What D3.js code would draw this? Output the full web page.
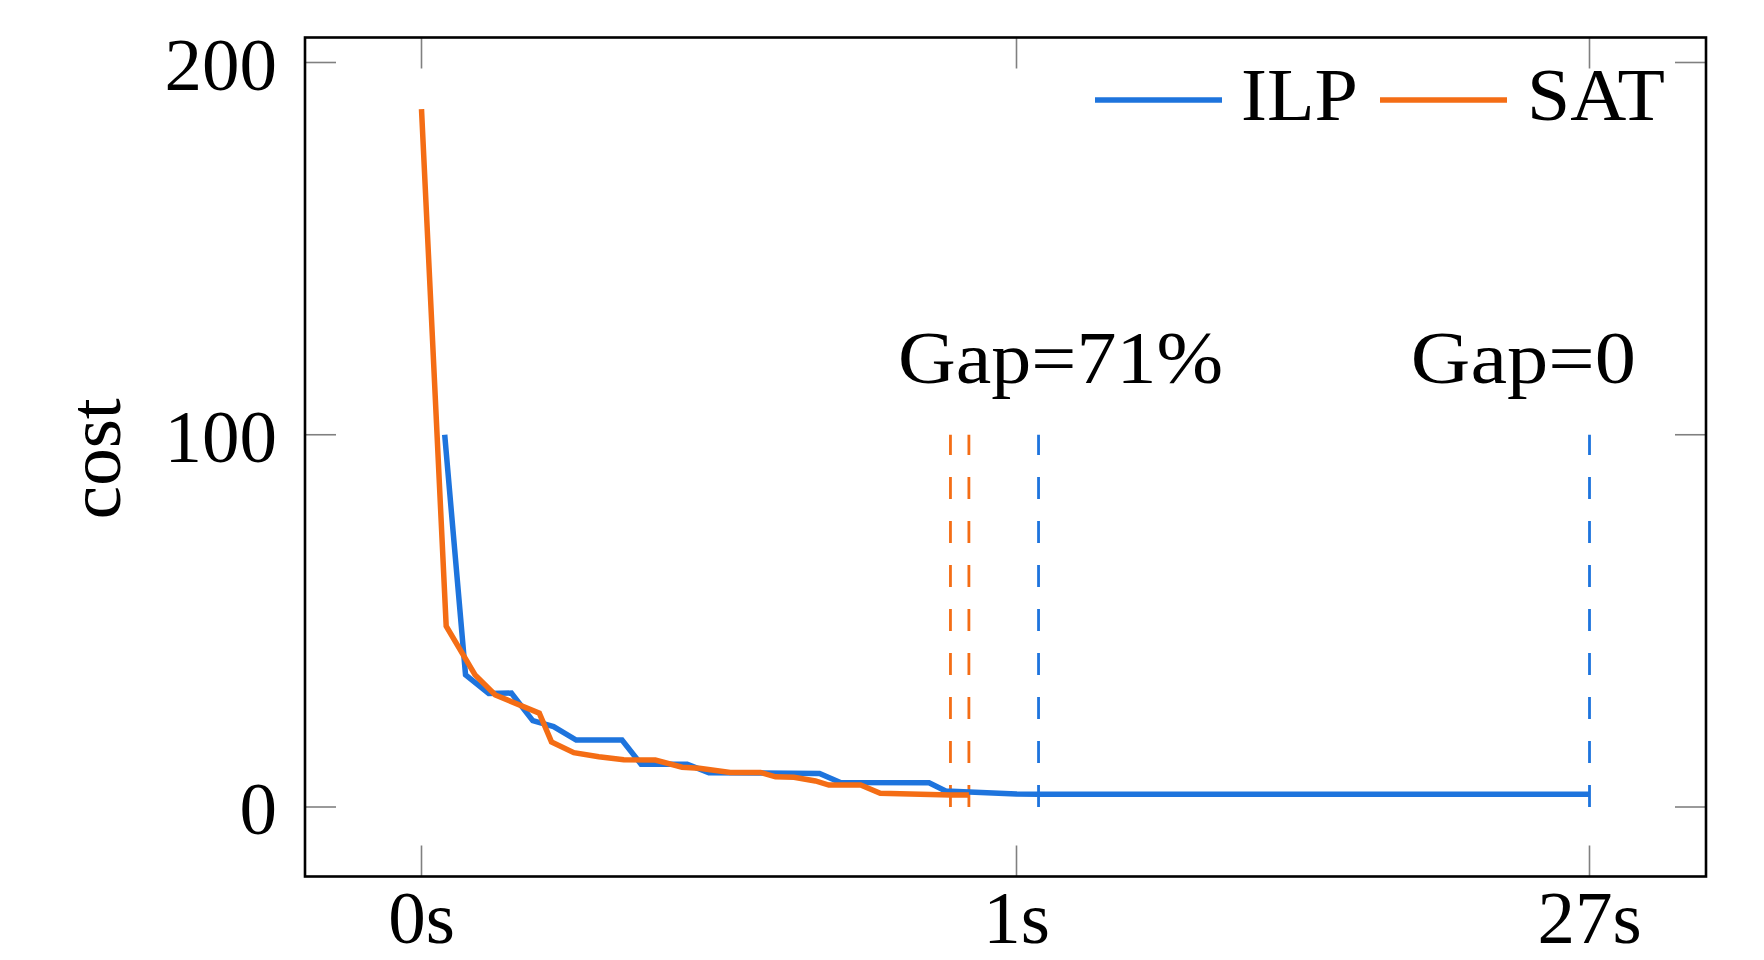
<!DOCTYPE html>
<html>
<head>
<meta charset="utf-8">
<script src="https://cdn.jsdelivr.net/npm/d3@7"></script>
<style>
  html, body { margin: 0; padding: 0; background: #fff; }
  svg { display: block; }
  text { font-family: "Liberation Serif", "Times New Roman", serif; fill: #000; }
</style>
</head>
<body>
<svg id="chart" width="1764" height="960"></svg>
<script>
// ---- data ----
const seriesNames = ["ILP", "SAT"];
const ilpTime = [0.039, 0.074, 0.113, 0.151, 0.187, 0.222, 0.26, 0.337, 0.369, 0.4465, 0.483, 0.669, 0.704, 0.853, 0.881, 1.0, 2.0, 27];
const ilpCost = [100, 35.5, 30.5, 30.6, 23.2, 21.6, 18.0, 18.0, 11.5, 11.5, 9.2, 9.0, 6.6, 6.5, 4.3, 3.5, 3.4, 3.4];
const satTime = [0, 0.0415, 0.09, 0.124, 0.198, 0.2185, 0.256, 0.298, 0.34, 0.393, 0.438, 0.467, 0.519, 0.5697, 0.595, 0.626, 0.662, 0.6846, 0.738, 0.771, 0.889, 0.92];
const satCost = [187.5, 48.6, 35.5, 30.1, 25.2, 17.5, 14.6, 13.5, 12.7, 12.6, 10.7, 10.4, 9.3, 9.3, 8.1, 8.0, 7.0, 5.9, 5.9, 3.7, 3.2, 3.2];
const satMarks = [0.889, 0.92];
const ilpMarks = [2.0, 27];
const markTop = 100;
const xTicks = [0, 1, 27];
const xTickLabels = ["0s", "1s", "27s"];
const yTicks = [0, 100, 200];
const yTickLabels = ["0", "100", "200"];
const gapLabels = ["Gap=71%", "Gap=0"];
const gapLabelTime = [3.0, 24.0];
const gapLabelCost = 114;
const yAxisTitle = "cost";

// ---- layout ----
const colors = { ILP: "#1e74dd", SAT: "#f46d15" };
const box = { left: 305, right: 1706, top: 37.5, bottom: 876.5 };
const fontSize = 75;
const tickLen = 31;
const gapLabelWidth = [325, 225];
const lineWidth = 5.5;

const svg = d3.select("#chart");

const x = d3.scaleLinear().domain([0, 1, 27]).range([421.5, 1016.5, 1589.5]);
const y = d3.scaleLinear().domain([0, 200]).range([807, 62.5]);

// ticks (inside, on all four sides)
const tickG = svg.append("g").attr("stroke", "#808080").attr("stroke-width", 1.6);
xTicks.forEach(t => {
  tickG.append("line").attr("x1", x(t)).attr("x2", x(t)).attr("y1", box.bottom).attr("y2", box.bottom - tickLen);
  tickG.append("line").attr("x1", x(t)).attr("x2", x(t)).attr("y1", box.top).attr("y2", box.top + tickLen);
});
yTicks.forEach(v => {
  tickG.append("line").attr("x1", box.left).attr("x2", box.left + tickLen).attr("y1", y(v)).attr("y2", y(v));
  tickG.append("line").attr("x1", box.right).attr("x2", box.right - tickLen).attr("y1", y(v)).attr("y2", y(v));
});

// tick labels
svg.append("g").selectAll("text").data(xTicks).join("text")
  .attr("x", d => x(d)).attr("y", 943)
  .attr("text-anchor", "middle").attr("font-size", fontSize)
  .text((d, i) => xTickLabels[i]);
svg.append("g").selectAll("text").data(yTicks).join("text")
  .attr("x", 277).attr("y", d => y(d) + 27)
  .attr("text-anchor", "end").attr("font-size", fontSize)
  .text((d, i) => yTickLabels[i]);

// axis title
svg.append("text")
  .attr("transform", `translate(120, ${(y(0) + y(200)) / 2 + 24}) rotate(-90)`)
  .attr("text-anchor", "middle").attr("font-size", fontSize)
  .text(yAxisTitle);

// dashed markers
const dashG = svg.append("g").attr("stroke-width", 2.8).attr("stroke-dasharray", "22 22").attr("fill", "none");
satMarks.forEach(t => dashG.append("path").attr("stroke", colors.SAT)
  .attr("d", `M${x(t)},${y(0)}V${y(markTop)}`));
ilpMarks.forEach(t => dashG.append("path").attr("stroke", colors.ILP)
  .attr("d", `M${x(t)},${y(0)}V${y(markTop)}`));

// series
const line = d3.line().x(d => x(d[0])).y(d => y(d[1]));
const ilpData = ilpTime.map((t, i) => [t, ilpCost[i]]);
const satData = satTime.map((t, i) => [t, satCost[i]]);
svg.append("path").attr("d", line(ilpData)).attr("fill", "none")
  .attr("stroke", colors.ILP).attr("stroke-width", lineWidth);
svg.append("path").attr("d", line(satData)).attr("fill", "none")
  .attr("stroke", colors.SAT).attr("stroke-width", lineWidth);

// gap labels
svg.append("g").selectAll("text").data(gapLabels).join("text")
  .attr("x", (d, i) => x(gapLabelTime[i]) - gapLabelWidth[i] / 2).attr("y", y(gapLabelCost))
  .attr("font-size", fontSize)
  .attr("textLength", (d, i) => gapLabelWidth[i]).attr("lengthAdjust", "spacingAndGlyphs")
  .text(d => d);

// legend
const legendItems = [
  { name: seriesNames[0], x0: 1095, tx: 1241, w: 117 },
  { name: seriesNames[1], x0: 1380, tx: 1527, w: 138 }
];
const lg = svg.append("g");
legendItems.forEach(it => {
  lg.append("line").attr("x1", it.x0).attr("x2", it.x0 + 127).attr("y1", 100).attr("y2", 100)
    .attr("stroke", colors[it.name]).attr("stroke-width", lineWidth);
  lg.append("text").attr("x", it.tx).attr("y", 120).attr("font-size", fontSize)
    .attr("textLength", it.w).attr("lengthAdjust", "spacingAndGlyphs").text(it.name);
});

// frame
svg.append("rect")
  .attr("x", box.left).attr("y", box.top)
  .attr("width", box.right - box.left).attr("height", box.bottom - box.top)
  .attr("fill", "none").attr("stroke", "#000").attr("stroke-width", 2.6);
</script>
</body>
</html>
